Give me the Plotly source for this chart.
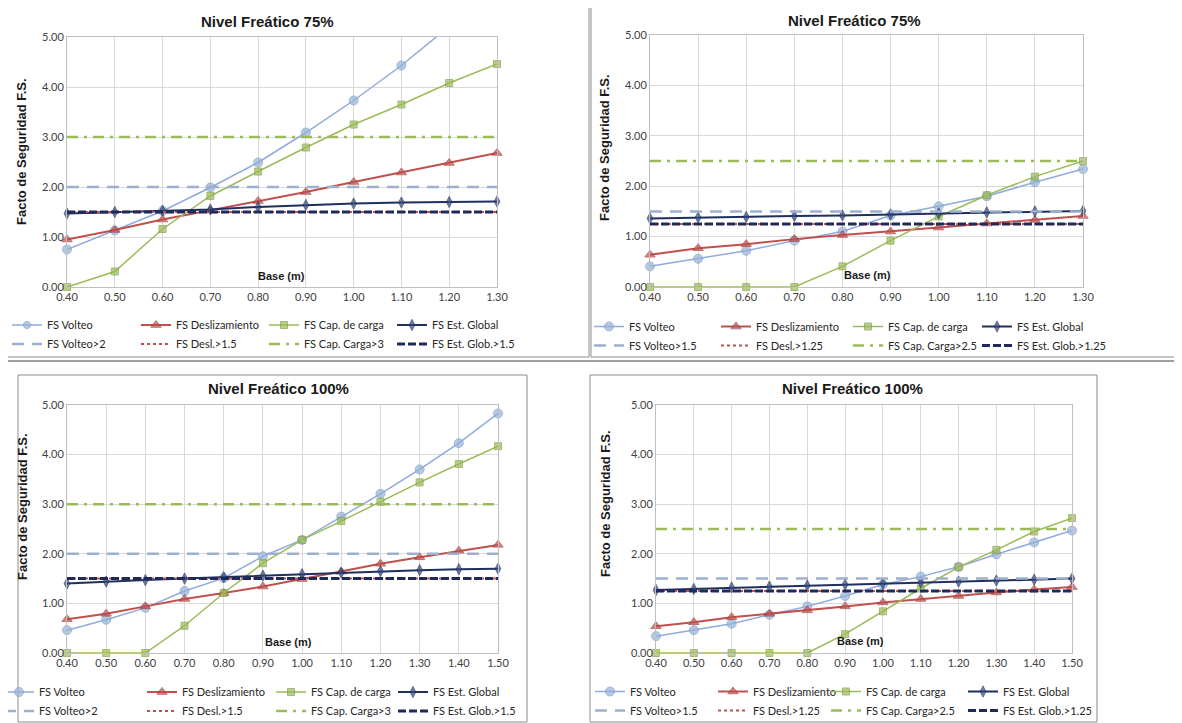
import plotly.graph_objects as go

W, H = 1182, 723

# ---------------- DATA ----------------
base_75 = [0.40, 0.50, 0.60, 0.70, 0.80, 0.90, 1.00, 1.10, 1.20, 1.30]
base_100 = [0.40, 0.50, 0.60, 0.70, 0.80, 0.90, 1.00, 1.10, 1.20, 1.30, 1.40, 1.50]

# Panel A: Nivel Freático 75% (left)
a_volteo = [0.75, 1.13, 1.52, 1.99, 2.49, 3.09, 3.73, 4.43, 5.20, 6.00]
a_desl = [0.95, 1.14, 1.35, 1.53, 1.72, 1.90, 2.10, 2.29, 2.48, 2.68]
a_cap = [0.00, 0.31, 1.16, 1.82, 2.31, 2.79, 3.25, 3.65, 4.08, 4.46]
a_glob = [1.47, 1.50, 1.53, 1.55, 1.60, 1.64, 1.67, 1.69, 1.70, 1.71]
a_lim = [2.0, 1.5, 3.0, 1.5]

# Panel B: Nivel Freático 75% (right)
b_volteo = [0.41, 0.56, 0.72, 0.92, 1.10, 1.42, 1.60, 1.80, 2.08, 2.34]
b_desl = [0.64, 0.77, 0.85, 0.95, 1.03, 1.10, 1.18, 1.26, 1.33, 1.41]
b_cap = [0.00, 0.00, 0.00, 0.00, 0.41, 0.92, 1.40, 1.82, 2.19, 2.50]
b_glob = [1.36, 1.38, 1.39, 1.41, 1.42, 1.44, 1.46, 1.48, 1.50, 1.51]
b_lim = [1.5, 1.25, 2.5, 1.25]

# Panel C: Nivel Freático 100% (left)
c_volteo = [0.46, 0.67, 0.91, 1.25, 1.51, 1.95, 2.28, 2.75, 3.21, 3.70, 4.23, 4.83]
c_desl = [0.68, 0.79, 0.94, 1.09, 1.21, 1.34, 1.49, 1.64, 1.80, 1.93, 2.06, 2.18]
c_cap = [0.00, 0.00, 0.00, 0.55, 1.21, 1.81, 2.28, 2.66, 3.05, 3.44, 3.81, 4.17]
c_glob = [1.40, 1.44, 1.47, 1.50, 1.53, 1.56, 1.59, 1.62, 1.65, 1.67, 1.69, 1.70]
c_lim = [2.0, 1.5, 3.0, 1.5]

# Panel D: Nivel Freático 100% (right)
d_volteo = [0.34, 0.46, 0.59, 0.77, 0.94, 1.15, 1.38, 1.54, 1.74, 1.99, 2.23, 2.47]
d_desl = [0.54, 0.62, 0.72, 0.79, 0.86, 0.94, 1.02, 1.09, 1.15, 1.22, 1.28, 1.33]
d_cap = [0.00, 0.00, 0.00, 0.00, 0.00, 0.38, 0.84, 1.30, 1.73, 2.08, 2.45, 2.72]
d_glob = [1.27, 1.29, 1.32, 1.34, 1.36, 1.38, 1.40, 1.42, 1.44, 1.46, 1.48, 1.50]
d_lim = [1.5, 1.25, 2.5, 1.25]

titles = ["Nivel Freático 75%", "Nivel Freático 75%", "Nivel Freático 100%", "Nivel Freático 100%"]
series_names = ["FS Volteo", "FS Deslizamiento", "FS Cap. de carga", "FS Est. Global"]
limit_names_a = ["FS Volteo>2", "FS Desl.>1.5", "FS Cap. Carga>3", "FS Est. Glob.>1.5"]
limit_names_b = ["FS Volteo>1.5", "FS Desl.>1.25", "FS Cap. Carga>2.5", "FS Est. Glob.>1.25"]
y_ticks = [0, 1, 2, 3, 4, 5]
y_title = "Facto de Seguridad F.S."
x_title = "Base (m)"

panels = [
    dict(base=base_75, vals=[a_volteo, a_desl, a_cap, a_glob], lim=a_lim, lnames=limit_names_a, title=titles[0]),
    dict(base=base_75, vals=[b_volteo, b_desl, b_cap, b_glob], lim=b_lim, lnames=limit_names_b, title=titles[1]),
    dict(base=base_100, vals=[c_volteo, c_desl, c_cap, c_glob], lim=c_lim, lnames=limit_names_a, title=titles[2]),
    dict(base=base_100, vals=[d_volteo, d_desl, d_cap, d_glob], lim=d_lim, lnames=limit_names_b, title=titles[3]),
]

# ---------------- LAYOUT (pixel geometry, screen coordinates) ----------------
geo = [
    dict(x0=67, x1=497, yt=37, yb=287, tx=267, ty=21, yx=22, yc=152, bx=281, by=276,
         lcols=(48, 177, 305, 433), lmid=334.5),
    dict(x0=650, x1=1083, yt=35, yb=287, tx=854, ty=20, yx=605, yc=148, bx=867, by=275,
         lcols=(630, 757, 889, 1018), lmid=336),
    dict(x0=67, x1=498, yt=405, yb=653, tx=278, ty=388, yx=22, yc=507, bx=288, by=642,
         lcols=(40, 183, 312, 434), lmid=701.5),
    dict(x0=656, x1=1072, yt=405, yb=653, tx=852, ty=388, yx=605, yc=504, bx=860, by=641,
         lcols=(631, 754, 867, 1004), lmid=701),
]

OFF = 8  # page body margin offset
TEXT_GAP = 41  # legend: distance from legend left edge to item text


def px(x):
    return (x - OFF) / W


def py(y):
    return 1 - (y - OFF) / H


FONT = "Lato, 'Open Sans', sans-serif"
BOLD = "'Liberation Sans', Arial, sans-serif"

line_styles = [
    dict(color="#8FAADC", width=1.5),
    dict(color="#C0504D", width=2),
    dict(color="#9BBB59", width=1.5),
    dict(color="#1F2F5E", width=2),
]
marker_styles = [
    dict(symbol="circle", size=9, color="#95B3D7", line=dict(color="#7E9CC9", width=1)),
    dict(symbol="triangle-up", size=9, color="#C0504D", line=dict(color="#A33B38", width=1)),
    dict(symbol="square", size=7, color="#9BBB59", line=dict(color="#7F9E3F", width=1)),
    dict(symbol="diamond-tall", size=8, color="#34497F", line=dict(color="#1F2F5E", width=1)),
]
limit_styles = [
    dict(color="#9DB0CE", width=2.5, dash="12px,8px"),
    dict(color="#C0504D", width=2, dash="dot"),
    dict(color="#9BBB59", width=2.5, dash="11px,6px,3px,6px"),
    dict(color="#1F2A5A", width=3, dash="8px,3px"),
]

fig = go.Figure()
annotations = []
shapes = []


def legend_id(i, k):
    idx = 4 * i + k + 1
    return "legend" if idx == 1 else f"legend{idx}"


for i, (p, g) in enumerate(zip(panels, geo)):
    n = i + 1
    xa = "x" if n == 1 else f"x{n}"
    ya = "y" if n == 1 else f"y{n}"
    base = p["base"]
    for k in range(4):
        vals = p["vals"][k]
        ms = dict(marker_styles[k])
        ms["size"] = [marker_styles[k]["size"] if v <= 5 else 0 for v in vals]
        fig.add_trace(go.Scatter(
            x=base, y=vals, name=series_names[k], mode="lines+markers",
            line=line_styles[k], marker=ms, xaxis=xa, yaxis=ya, legend=legend_id(i, k),
            cliponaxis=False,
        ))
    for k in range(4):
        fig.add_trace(go.Scatter(
            x=base, y=[p["lim"][k]] * len(base), name=p["lnames"][k], mode="lines",
            line=limit_styles[k], xaxis=xa, yaxis=ya, legend=legend_id(i, k),
        ))

    xkey = "xaxis" if n == 1 else f"xaxis{n}"
    ykey = "yaxis" if n == 1 else f"yaxis{n}"
    fig.layout[xkey] = dict(
        domain=[px(g["x0"]), px(g["x1"])], anchor=ya, range=[base[0], base[-1]],
        tickvals=base, ticktext=[f"{b:.2f}" for b in base],
        showgrid=True, gridcolor="#D9D9D9", gridwidth=1,
        showline=True, linecolor="#BFBFBF", mirror=True, zeroline=False,
        tickfont=dict(family=FONT, size=11, color="#404040"), ticks="",
        automargin=False,
    )
    fig.layout[ykey] = dict(
        domain=[py(g["yb"]), py(g["yt"])], anchor=xa, range=[0, 5],
        tickvals=y_ticks, ticktext=[f"{t:.2f}" for t in y_ticks],
        showgrid=True, gridcolor="#D9D9D9", gridwidth=1,
        showline=True, linecolor="#BFBFBF", mirror=True, zeroline=False,
        tickfont=dict(family=FONT, size=11, color="#404040"), ticks="",
        automargin=False,
    )
    annotations.append(dict(text=f"<b>{p['title']}</b>", x=px(g["tx"]), y=py(g["ty"]),
                            xref="paper", yref="paper", showarrow=False,
                            xanchor="center", yanchor="middle",
                            font=dict(family=BOLD, size=15, color="#1A1A1A")))
    annotations.append(dict(text=f"<b>{y_title}</b>", x=px(g["yx"]), y=py(g["yc"]),
                            xref="paper", yref="paper", showarrow=False, textangle=-90,
                            xanchor="center", yanchor="middle",
                            font=dict(family=BOLD, size=13, color="#1A1A1A")))
    annotations.append(dict(text=f"<b>{x_title}</b>", x=px(g["bx"]), y=py(g["by"]),
                            xref="paper", yref="paper", showarrow=False,
                            xanchor="center", yanchor="middle",
                            font=dict(family=BOLD, size=11, color="#1A1A1A")))
    for k in range(4):
        fig.layout[legend_id(i, k)] = dict(
            orientation="v", x=px(g["lcols"][k] - TEXT_GAP), y=py(g["lmid"]),
            xanchor="left", yanchor="middle", bgcolor="rgba(0,0,0,0)",
            font=dict(family=FONT, size=11, color="#262626"), itemwidth=30,
            tracegroupgap=0, traceorder="normal",
        )

# panel frames
frames = [
    (5, 7, 589, 357),
    (591, 3, 1180, 357),
    (18, 375, 527, 722),
    (590, 375, 1097, 722),
]
for (x0, y0, x1, y1) in frames:
    shapes.append(dict(type="rect", xref="paper", yref="paper",
                       x0=px(x0), x1=px(x1), y0=py(y1), y1=py(y0),
                       line=dict(color="#8C8C8C", width=1), fillcolor="rgba(0,0,0,0)", layer="below"))
# separator between the two rows of screenshots
shapes.append(dict(type="line", xref="paper", yref="paper",
                   x0=px(8), x1=px(1182), y0=py(361), y1=py(361),
                   line=dict(color="#7F7F7F", width=1.5), layer="below"))

fig.update_layout(
    width=W, height=H, margin=dict(l=0, r=0, t=0, b=0, autoexpand=False),
    paper_bgcolor="white", plot_bgcolor="white",
    annotations=annotations, shapes=shapes, showlegend=True,
)

fig.write_html("out.html")
